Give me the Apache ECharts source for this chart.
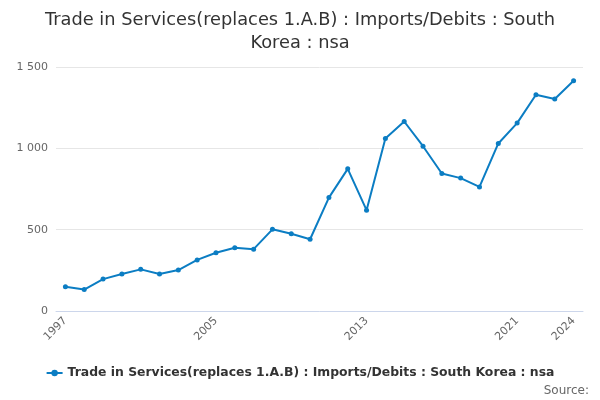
<!DOCTYPE html>
<html><head><meta charset="utf-8">
<script src="https://cdn.jsdelivr.net/npm/echarts@6/dist/echarts.min.js"></script>
<style>html,body{margin:0;padding:0;background:#fff}#c{width:600px;height:400px}</style>
</head><body><div id="c"></div>
<script>
const years = ['1997','1998','1999','2000','2001','2002','2003','2004','2005','2006','2007','2008','2009','2010','2011','2012','2013','2014','2015','2016','2017','2018','2019','2020','2021','2022','2023','2024'];
const imports = [149,132,196,227,256,227,252,314,358,389,380,502,475,441,697,874,620,1060,1165,1013,845,817,763,1030,1155,1329,1303,1415];
const seriesName = 'Trade in Services(replaces 1.A.B) : Imports/Debits : South Korea : nsa';
const titleText = 'Trade in Services(replaces 1.A.B) : Imports/Debits : South\nKorea : nsa';

const chart = echarts.init(document.getElementById('c'));
const last = years.length - 1;
chart.setOption({
  animation: false,
  title: {
    text: titleText, left: 'center', top: 4,
    textStyle: { fontFamily: 'DejaVu Sans', fontSize: 17.8, fontWeight: 'normal', color: '#333', lineHeight: 23 }
  },
  grid: { left: 56, right: 17, top: 67, bottom: 89 },
  legend: {
    bottom: 16, left: 'center', itemWidth: 16, itemHeight: 8, itemGap: 5,
    textStyle: { fontFamily: 'DejaVu Sans', fontSize: 12.4, fontWeight: 'bold', color: '#333' },
    data: [seriesName]
  },
  graphic: [{
    type: 'text', right: 11, bottom: 3,
    style: { text: 'Source:', fill: '#666', font: '12px DejaVu Sans' }
  }],
  xAxis: {
    type: 'category', data: years, boundaryGap: true,
    axisLine: { lineStyle: { color: '#ccd6eb' } },
    axisTick: { alignWithLabel: true, length: 9, lineStyle: { color: '#ccd6eb' },
      interval: (i) => (i % 2 === 0 && i <= 24) || i === last },
    axisLabel: { rotate: 45, color: '#666', fontFamily: 'DejaVu Sans', fontSize: 11, margin: 8,
      interval: (i) => i % 8 === 0 || i === last }
  },
  yAxis: {
    type: 'value', min: 0, max: 1500, interval: 500,
    axisLine: { show: false }, axisTick: { show: false },
    splitLine: { lineStyle: { color: '#e6e6e6' } },
    axisLabel: { color: '#666', fontFamily: 'DejaVu Sans', fontSize: 11, margin: 8,
      formatter: (v) => String(v).replace(/\B(?=(\d{3})+(?!\d))/g, ' ') }
  },
  series: [{
    name: seriesName, type: 'line', data: imports,
    symbol: 'circle', symbolSize: 5, showSymbol: true,
    lineStyle: { width: 2, color: '#0b7dc3' },
    itemStyle: { color: '#0b7dc3' }
  }]
});
</script></body></html>
